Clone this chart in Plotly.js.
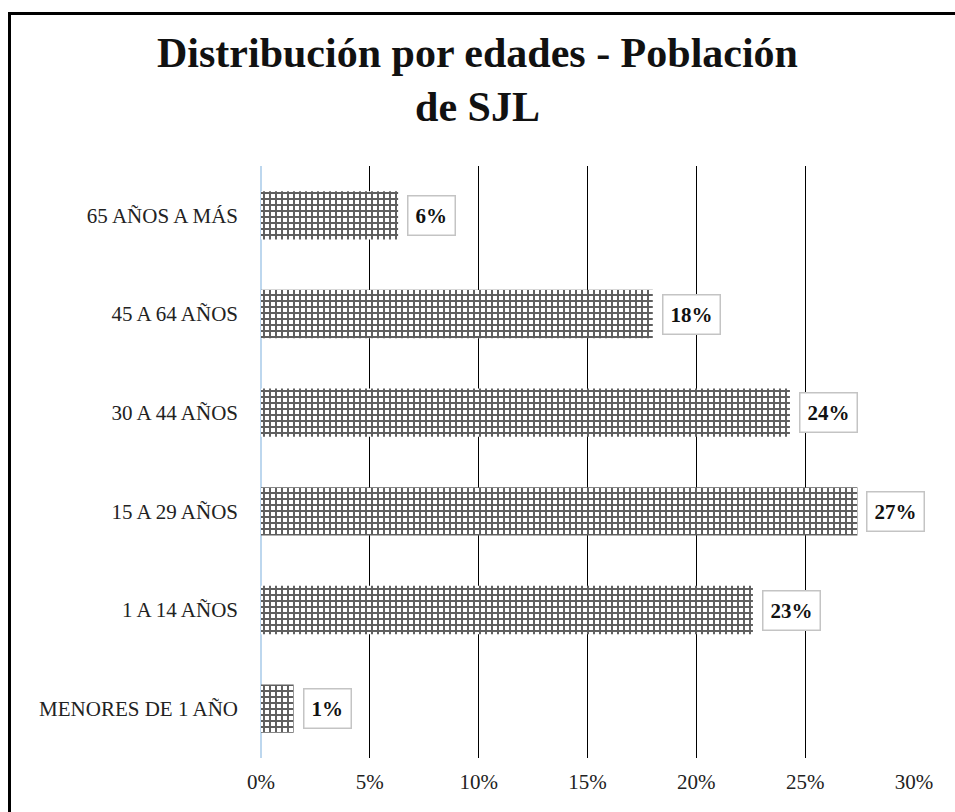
<!DOCTYPE html>
<html>
<head>
<meta charset="utf-8">
<script src="https://cdn.plot.ly/plotly-3.0.1.min.js"></script>
<style>
  html, body { margin: 0; padding: 0; width: 955px; height: 812px; overflow: hidden; background: #fff; }
  #chart { position: absolute; left: 0; top: 0; width: 955px; height: 812px; }
  #frame { position: absolute; left: 8px; top: 12px; width: 1000px; height: 1000px; border: 3px solid #000; box-sizing: border-box; pointer-events: none; }
</style>
</head>
<body>
<div id="chart"></div>
<div id="frame"></div>
<script>
// Data (top to bottom as shown)
const categories = ["65 AÑOS A MÁS", "45 A 64 AÑOS", "30 A 44 AÑOS", "15 A 29 AÑOS", "1 A 14 AÑOS", "MENORES DE 1 AÑO"];
const values = [6.3, 18.0, 24.3, 27.4, 22.6, 1.5];
const labels = ["6%", "18%", "24%", "27%", "23%", "1%"];
const xTicks = [0, 5, 10, 15, 20, 25, 30];

const serif = "Liberation Serif, Times New Roman, serif";

const trace = {
  type: "bar",
  orientation: "h",
  y: categories,
  x: values,
  width: 0.49,
  marker: {
    color: "#ffffff",
    line: { width: 0 },
    pattern: { shape: "+", fgcolor: "#5f5f5f", bgcolor: "#ffffff", size: 6, solidity: 0.55 }
  },
  hoverinfo: "skip"
};

const annotations = categories.map((c, i) => ({
  x: values[i], y: c, xref: "x", yref: "y",
  text: "<b>" + labels[i] + "</b>",
  showarrow: false, xanchor: "left", yanchor: "middle", xshift: 9,
  font: { family: serif, size: 21, color: "#111" },
  bgcolor: "#ffffff", bordercolor: "#c4c4c4", borderwidth: 1.5, borderpad: 7
}));

const layout = {
  width: 955, height: 812,
  margin: { l: 261, r: 41, t: 166, b: 54 },
  paper_bgcolor: "#ffffff", plot_bgcolor: "#ffffff",
  showlegend: false,
  title: {
    text: "<b>Distribución por edades - Población<br>de SJL</b>",
    font: { family: serif, size: 42, color: "#111" },
    x: 0.5, xanchor: "center", y: 0.918, yanchor: "top"
  },
  xaxis: {
    range: [0, 30], tickvals: xTicks, ticktext: xTicks.map(v => v + "%"),
    showgrid: true, gridcolor: "#000", gridwidth: 1,
    zeroline: true, zerolinecolor: "#bdd7ee", zerolinewidth: 2,
    showline: false, ticks: "", ticklabelstandoff: 9,
    tickfont: { family: serif, size: 21, color: "#222" }, fixedrange: true
  },
  yaxis: {
    type: "category", categoryorder: "array", categoryarray: categories,
    autorange: "reversed", showgrid: false, zeroline: false, showline: false,
    ticks: "", ticklabelstandoff: 22,
    tickfont: { family: serif, size: 21, color: "#222" }, fixedrange: true
  },
  annotations: annotations
};

Plotly.newPlot("chart", [trace], layout, { displayModeBar: false, staticPlot: true });
</script>
</body>
</html>
